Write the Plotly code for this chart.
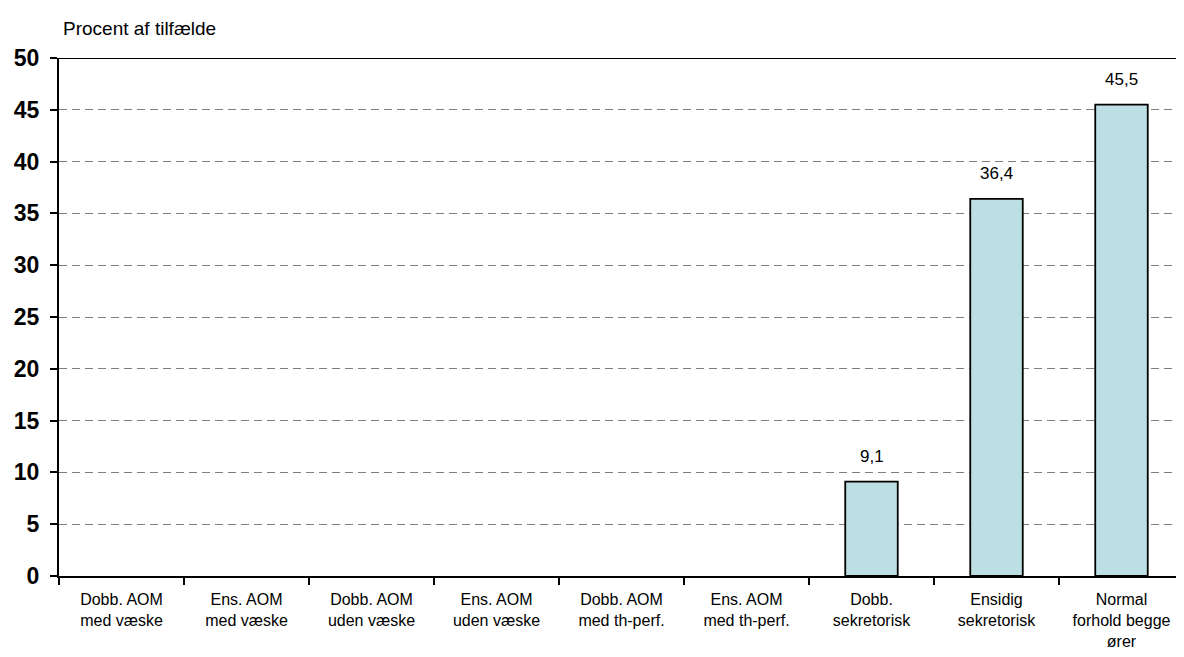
import plotly.graph_objects as go

categories = [
    "Dobb. AOM<br>med væske",
    "Ens. AOM<br>med væske",
    "Dobb. AOM<br>uden væske",
    "Ens. AOM<br>uden væske",
    "Dobb. AOM<br>med th-perf.",
    "Ens. AOM<br>med th-perf.",
    "Dobb.<br>sekretorisk",
    "Ensidig<br>sekretorisk",
    "Normal<br>forhold begge<br>ører",
]
values = [0, 0, 0, 0, 0, 0, 9.1, 36.4, 45.5]
y_ticks = [0, 5, 10, 15, 20, 25, 30, 35, 40, 45, 50]

FONT = "Arial, Liberation Sans, sans-serif"

fig = go.Figure()

# zero-valued categories get no visible bar
fig.add_trace(go.Bar(
    x=categories,
    y=[v if v > 0 else None for v in values],
    width=0.42,
    marker=dict(color="#BBDFE3", line=dict(color="black", width=1.8)),
    hoverinfo="x+y",
    showlegend=False,
))

# value labels above the non-empty bars
for cat, v in zip(categories, values):
    if v > 0:
        fig.add_annotation(
            x=cat, y=v, text=f"{v:.1f}".replace(".", ","),
            showarrow=False, yanchor="bottom", yshift=14,
            font=dict(size=17, color="black", family=FONT),
        )

# solid line across the top of the plot area
fig.add_shape(type="line", xref="paper", x0=0, x1=1, yref="y", y0=50, y1=50,
              line=dict(color="black", width=2))

fig.add_annotation(
    text="Procent af tilfælde", xref="paper", yref="paper",
    x=0.002, y=1, xanchor="left", yanchor="bottom", yshift=17,
    showarrow=False, font=dict(size=19, color="black", family=FONT),
)

# page body has an 8px margin, so the figure is sized to fit the window
fig.update_layout(
    width=1176,
    height=649,
    margin=dict(l=51, r=0, t=50, b=81),
    plot_bgcolor="white",
    paper_bgcolor="white",
    font=dict(family=FONT, color="black"),
    bargap=0.58,
)

fig.update_xaxes(
    showline=True, linecolor="black", linewidth=2,
    ticks="outside", tickson="boundaries", ticklen=7, tickcolor="black", tickwidth=2,
    tickfont=dict(size=16, color="black"),
    ticklabelstandoff=8,
    showgrid=False,
)
fig.update_yaxes(
    range=[0, 50], tickvals=y_ticks,
    showline=True, linecolor="black", linewidth=2,
    ticks="outside", ticklen=7, tickcolor="black", tickwidth=2,
    tickfont=dict(size=23, color="black", weight="bold"),
    ticklabelstandoff=6,
    showgrid=True, gridcolor="#7f7f7f", griddash="8px,5px", gridwidth=1,
    zeroline=False,
)

fig.write_html("out.html")
